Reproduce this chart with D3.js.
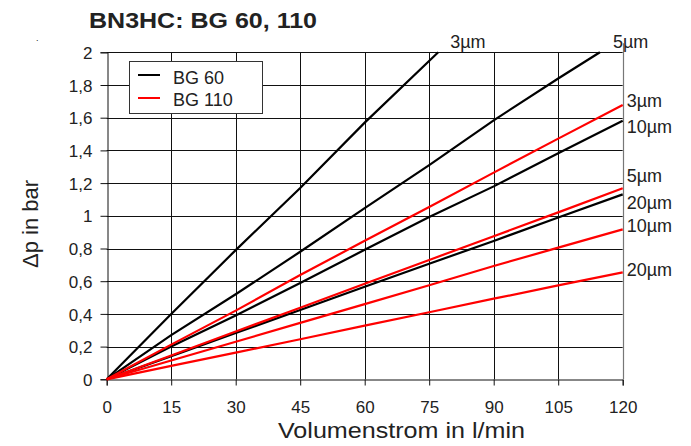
<!DOCTYPE html>
<html>
<head>
<meta charset="utf-8">
<script src="https://cdn.jsdelivr.net/npm/d3@7"></script>
<style>
  body { margin: 0; background: #fff; }
  text { font-family: "Liberation Sans", Arial, sans-serif; fill: #222; }
</style>
</head>
<body>
<script>
// flow rate (l/min) vs pressure drop (bar)
var xTicks = [0, 15, 30, 45, 60, 75, 90, 105, 120];
var yTicks = [0, 0.2, 0.4, 0.6, 0.8, 1, 1.2, 1.4, 1.6, 1.8, 2];

var flowFull = [0, 15, 30, 45, 60, 75, 90, 105, 120];

var bg60_3  = [[0, 0], [15, 0.40], [30, 0.79], [45, 1.17], [60, 1.57], [77.1, 2.0]];
var bg60_5  = [[0, 0], [15, 0.27], [30, 0.52], [45, 0.78], [60, 1.047], [75, 1.31], [90, 1.584], [105, 1.84], [114.7, 2.0]];
var bg60_10 = [0, 0.20, 0.39, 0.589, 0.792, 0.993, 1.18, 1.383, 1.582];
var bg60_20 = [0, 0.141, 0.283, 0.424, 0.566, 0.707, 0.846, 0.99, 1.131];

var bg110_3  = [0, 0.212, 0.42, 0.638, 0.847, 1.054, 1.264, 1.472, 1.678];
var bg110_5  = [0, 0.146, 0.292, 0.438, 0.584, 0.73, 0.875, 1.021, 1.168];
var bg110_10 = [0, 0.115, 0.23, 0.345, 0.46, 0.575, 0.693, 0.805, 0.917];
var bg110_20 = [0, 0.082, 0.163, 0.245, 0.328, 0.41, 0.493, 0.574, 0.654];

var seriesNames = ["BG 60", "BG 110"];
var seriesColors = ["#000", "#f00"];

function pairs(vals) {
    return vals.map(function(v, i){ return [flowFull[i], v]; });
}

// label nudges (px) relative to line end
var curves = [
    {pts: bg60_3,          grp: 0, label: "3µm",  dx: 12, dy: -4},
    {pts: bg60_5,          grp: 0, label: "5µm",  dx: 13, dy: -4},
    {pts: pairs(bg60_10),  grp: 0, label: "10µm", dx: 4,  dy: 12.7},
    {pts: pairs(bg60_20),  grp: 0, label: "20µm", dx: 4,  dy: 14.6},
    {pts: pairs(bg110_3),  grp: 1, label: "3µm",  dx: 4,  dy: 1.8},
    {pts: pairs(bg110_5),  grp: 1, label: "5µm",  dx: 4,  dy: -6.6},
    {pts: pairs(bg110_10), grp: 1, label: "10µm", dx: 4,  dy: 2.3},
    {pts: pairs(bg110_20), grp: 1, label: "20µm", dx: 4,  dy: 3.6}
];

var W = 691, H = 446;
var svg = d3.select("body").append("svg").attr("width", W).attr("height", H);

var x = d3.scaleLinear().domain([0, 120]).range([106.7, 622.7]);
var y = d3.scaleLinear().domain([0, 2]).range([379.3, 52.3]);

var fmt = d3.formatLocale({decimal: ",", thousands: ".", grouping: [3], currency: ["", ""]}).format("~g");

// grid
svg.append("g").selectAll("line").data(yTicks.slice(1)).join("line")
    .attr("x1", x(0)).attr("x2", x(120))
    .attr("y1", function(d){ return Math.round(y(d)) + 0.5; })
    .attr("y2", function(d){ return Math.round(y(d)) + 0.5; })
    .attr("stroke", "#111").attr("stroke-width", 1);
svg.append("g").selectAll("line").data(xTicks.slice(1, -1)).join("line")
    .attr("x1", function(d){ return Math.round(x(d)) + 0.5; })
    .attr("x2", function(d){ return Math.round(x(d)) + 0.5; })
    .attr("y1", y(0)).attr("y2", y(2))
    .attr("stroke", "#111").attr("stroke-width", 1);
// right border runs a bit above the frame
svg.append("line")
    .attr("x1", Math.round(x(120)) + 0.5).attr("x2", Math.round(x(120)) + 0.5)
    .attr("y1", y(0)).attr("y2", y(2) - 9)
    .attr("stroke", "#777").attr("stroke-width", 1.2);

// axes
var yAxis = svg.append("g")
    .attr("transform", "translate(" + (Math.round(x(0)) + 0.5) + ",0)")
    .call(d3.axisLeft(y).tickValues(yTicks).tickFormat(fmt).tickSize(7).tickPadding(8));
var xAxis = svg.append("g")
    .attr("transform", "translate(0," + (Math.round(y(0)) + 0.5) + ")")
    .call(d3.axisBottom(x).tickValues(xTicks).tickFormat(fmt).tickSize(6).tickPadding(15));
[yAxis, xAxis].forEach(function(a){
    a.select(".domain").attr("stroke", "#111");
    a.selectAll(".tick line").attr("stroke", "#111");
    a.selectAll(".tick text").attr("font-size", 17)
        .attr("font-family", "Liberation Sans, Arial, sans-serif").attr("fill", "#222");
});
yAxis.selectAll(".tick text").attr("dy", "0.36em");

// curves
var line = d3.line().x(function(d){ return x(d[0]); }).y(function(d){ return y(d[1]); });
svg.append("g").selectAll("path").data(curves).join("path")
    .attr("d", function(d){ return line(d.pts); })
    .attr("fill", "none")
    .attr("stroke", function(d){ return seriesColors[d.grp]; })
    .attr("stroke-width", 2.2);

svg.append("g").selectAll("text").data(curves).join("text")
    .attr("x", function(d){ return x(d.pts[d.pts.length - 1][0]) + d.dx; })
    .attr("y", function(d){ return y(d.pts[d.pts.length - 1][1]) + d.dy; })
    .attr("font-size", 18)
    .text(function(d){ return d.label; });

// legend
var lg = svg.append("g");
lg.append("rect").attr("x", 129.5).attr("y", 61.5).attr("width", 133).attr("height", 52)
    .attr("fill", "#fff").attr("stroke", "#333").attr("stroke-width", 1);
seriesNames.forEach(function(n, i){
    lg.append("line").attr("x1", 138).attr("x2", 160)
        .attr("y1", 75 + i * 23).attr("y2", 75 + i * 23)
        .attr("stroke", seriesColors[i]).attr("stroke-width", 2);
    lg.append("text").attr("x", 173).attr("y", 84 + i * 21.5)
        .attr("font-size", 18).text(n);
});

// titles
svg.append("text").attr("x", 89).attr("y", 27.5)
    .attr("font-size", 22).attr("font-weight", "bold")
    .attr("textLength", 228).attr("lengthAdjust", "spacingAndGlyphs")
    .text("BN3HC: BG 60, 110");
svg.append("text").attr("x", 36).attr("y", 41).attr("font-size", 9).attr("fill", "#888").text(".");
svg.append("text").attr("x", 278).attr("y", 438)
    .attr("font-size", 22)
    .attr("textLength", 247).attr("lengthAdjust", "spacingAndGlyphs")
    .text("Volumenstrom in l/min");
svg.append("text")
    .attr("transform", "translate(38,224) rotate(-90)")
    .attr("text-anchor", "middle").attr("font-size", 22).text("Δp in bar");
</script>
</body>
</html>
